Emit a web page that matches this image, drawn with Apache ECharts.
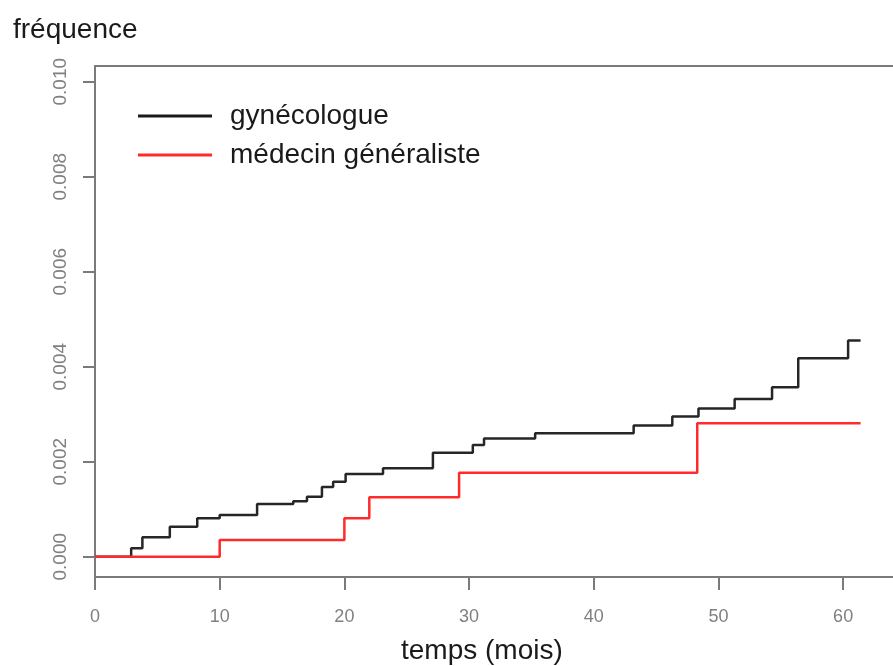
<!DOCTYPE html>
<html>
<head>
<meta charset="utf-8">
<script src="https://cdn.jsdelivr.net/npm/echarts@6/dist/echarts.min.js"></script>
<style>html,body{margin:0;padding:0;background:#fff}#c{width:893px;height:666px}</style>
</head>
<body>
<div id="c"></div>
<script>
// Data
var gynX = [0, 2.9, 3.8, 6.0, 8.2, 10.0, 13.0, 15.9, 17.0, 18.2, 19.1, 20.1, 23.1, 27.1, 30.3, 31.2, 35.3, 43.2, 46.3, 48.4, 51.3, 54.3, 56.4, 60.4, 61.4];
var gynY = [0, 0.00018, 0.00041, 0.00063, 0.00081, 0.00088, 0.00111, 0.00117, 0.00126, 0.00147, 0.00158, 0.00174, 0.00186, 0.00219, 0.00235, 0.00249, 0.00260, 0.00276, 0.00295, 0.00312, 0.00332, 0.00357, 0.00418, 0.00455, 0.00455];
var mgX = [0, 10.0, 20.0, 22.0, 29.2, 48.3, 61.4];
var mgY = [0, 0.00035, 0.00081, 0.00125, 0.00177, 0.00281, 0.00281];
var xTicks = [0, 10, 20, 30, 40, 50, 60];
var yTicks = [0, 0.002, 0.004, 0.006, 0.008, 0.010];
var seriesNames = ['gynécologue', 'médecin généraliste'];

function pairs(xs, ys) { return xs.map(function (x, i) { return [x, ys[i]]; }); }

var FONT = 'Liberation Sans, Arial, Helvetica, sans-serif';
var BOX = {color: '#7a7a7a', width: 2};
var chart = echarts.init(document.getElementById('c'), null, {renderer: 'canvas'});
chart.setOption({
  animation: false,
  backgroundColor: '#ffffff',
  title: [
    {text: 'fréquence', left: 8, top: 11, textStyle: {fontSize: 28, fontWeight: 'normal', color: '#1a1a1a', fontFamily: FONT}},
    {text: 'temps (mois)', left: 396, top: 632, textStyle: {fontSize: 28, fontWeight: 'normal', color: '#1a1a1a', fontFamily: FONT}}
  ],
  legend: {
    data: seriesNames,
    orient: 'vertical',
    left: 138, top: 100,
    padding: 0,
    icon: 'rect',
    itemWidth: 74, itemHeight: 3,
    itemGap: 7,
    textStyle: {fontSize: 28, color: '#1a1a1a', lineHeight: 32, padding: [0, 0, 0, 13], fontFamily: FONT}
  },
  grid: [
    {left: 95, top: 81.7, width: 811, height: 475},
    {left: 95, top: 66, width: 811, height: 511}
  ],
  xAxis: [
    {type: 'value', gridIndex: 0, min: 0, max: 64, show: false},
    {type: 'value', gridIndex: 1, min: 0, max: 64, interval: 10, position: 'bottom',
     axisLine: {show: true, lineStyle: BOX},
     axisTick: {show: true, length: 13, lineStyle: BOX},
     axisLabel: {margin: 31, showMaxLabel: false,
                 formatter: function (v) { return xTicks.indexOf(v) >= 0 ? String(v) : ''; },
                 color: '#808080', fontSize: 18, fontFamily: FONT},
     splitLine: {show: false}},
    {type: 'value', gridIndex: 1, min: 0, max: 64, position: 'top',
     axisLine: {show: true, lineStyle: BOX}, axisTick: {show: false}, axisLabel: {show: false}, splitLine: {show: false}}
  ],
  yAxis: [
    {type: 'value', gridIndex: 0, min: 0, max: 0.010, interval: 0.002,
     axisLine: {show: false},
     axisTick: {show: true, length: 12, lineStyle: BOX},
     axisLabel: {margin: 25, rotate: 90,
                 formatter: function (v) { return v.toFixed(3); },
                 color: '#808080', fontSize: 19, fontFamily: FONT},
     splitLine: {show: false}},
    {type: 'value', gridIndex: 1, min: 0, max: 1, position: 'left',
     axisLine: {show: true, lineStyle: BOX}, axisTick: {show: false}, axisLabel: {show: false}, splitLine: {show: false}}
  ],
  series: [
    {name: seriesNames[0], type: 'line', step: 'end', xAxisIndex: 0, yAxisIndex: 0, showSymbol: false, symbol: 'none',
     data: pairs(gynX, gynY), lineStyle: {color: '#262626', width: 2.5}, itemStyle: {color: '#1a1a1a'}},
    {name: seriesNames[1], type: 'line', step: 'end', xAxisIndex: 0, yAxisIndex: 0, showSymbol: false, symbol: 'none',
     data: pairs(mgX, mgY), lineStyle: {color: '#ff2a2a', width: 2.5}, itemStyle: {color: '#ff2a2a'}}
  ]
});
</script>
</body>
</html>
